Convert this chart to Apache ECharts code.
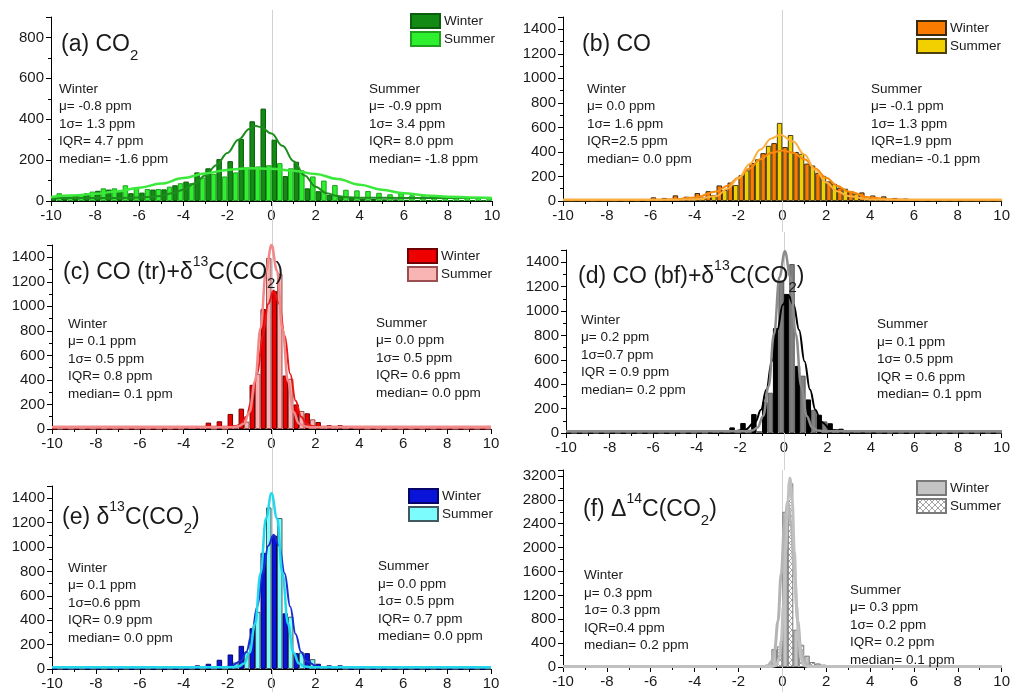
<!DOCTYPE html>
<html>
<head>
<meta charset="utf-8">
<script src="https://cdn.jsdelivr.net/npm/echarts@6/dist/echarts.min.js"></script>
<style>
html,body{margin:0;padding:0;background:#fff;}
#chart{width:1013px;height:692px;}
</style>
</head>
<body>
<div id="chart"></div>
<script>
// ---------- DATA ----------
const binCenters = [-9.75,-9.25,-8.75,-8.25,-7.75,-7.25,-6.75,-6.25,-5.75,-5.25,-4.75,-4.25,-3.75,-3.25,-2.75,-2.25,-1.75,-1.25,-0.75,-0.25,
                    0.25,0.75,1.25,1.75,2.25,2.75,3.25,3.75,4.25,4.75,5.25,5.75,6.25,6.75,7.25,7.75,8.25,8.75,9.25,9.75];
const xTicks = [-10,-8,-6,-4,-2,0,2,4,6,8,10];

// (a) CO2
const aWinter = [18,22,28,38,50,56,48,38,41,56,57,77,95,140,160,205,195,303,390,452,
                 300,122,192,62,48,30,22,15,12,10,8,8,6,5,5,4,3,3,3,2];
const aSummer = [38,30,30,46,62,62,77,67,59,59,70,87,87,115,133,120,140,165,169,175,
                 185,160,150,120,100,78,55,52,49,40,33,38,28,23,20,18,17,15,15,14];
const aFitWinter = [[-10,15],[-7,15],[-6,17],[-5,25],[-4.5,38],[-4,55],[-3.5,85],[-3,125],[-2.5,175],[-2,235],[-1.5,300],[-1,352],[-0.75,368],[-0.5,362],[0,330],[0.5,270],[1,195],[1.5,125],[2,70],[2.5,38],[3,24],[3.5,18],[4,16],[6,15],[10,15]];
const aFitSummer = [[-10,20],[-9,27],[-8,35],[-7,47],[-6,65],[-5,85],[-4,112],[-3,135],[-2,152],[-1,160],[0,158],[1,148],[2,132],[3,108],[4,80],[5,55],[6,38],[7,27],[8,21],[9,17],[10,15]];

// (b) CO
const bWinter = [0,0,0,0,0,3,5,15,30,25,46,35,65,80,127,150,210,310,390,472,
                 440,400,305,230,160,110,80,70,45,38,25,20,15,8,5,3,2,0,0,0];
const bSummer = [0,0,0,0,0,0,2,4,8,10,15,20,30,50,90,130,250,340,450,637,
                 538,385,290,205,140,100,60,35,25,15,10,8,5,3,2,0,0,0,0,0];
const bFitWinter = [[-10,10],[-6,10],[-5,14],[-4,28],[-3,78],[-2.5,125],[-2,190],[-1.5,265],[-1,340],[-0.5,393],[0,412],[0.5,393],[1,340],[1.5,265],[2,190],[2.5,125],[3,78],[4,28],[5,14],[6,10],[10,10]];
const bFitSummer = [[-10,10],[-5,10],[-4,13],[-3,40],[-2.5,100],[-2,185],[-1.5,300],[-1,420],[-0.5,510],[-0.1,540],[0.5,485],[1,380],[1.5,255],[2,150],[2.5,80],[3,40],[4,13],[5,10],[10,10]];

// (c) CO (tr)+d13C(CO2)
const cWinter = [0,0,0,0,0,0,0,0,0,0,0,0,15,15,52,63,123,166,360,978,
                 1125,436,200,128,57,30,30,15,0,0,0,0,0,0,0,0,0,0,0,0];
const cSummer = [0,0,0,0,0,0,0,0,0,0,0,0,10,10,0,0,33,60,450,1395,
                 1265,409,147,79,20,10,5,5,0,0,0,0,0,0,0,0,0,0,0,0];
const cFitWinter = [[-10,18],[-2,18],[-1.6,25],[-1.4,40],[-1.15,100],[-0.9,230],[-0.65,450],[-0.4,760],[-0.15,1020],[0.1,1130],[0.35,1020],[0.6,760],[0.85,450],[1.1,230],[1.35,100],[1.6,40],[1.85,25],[2.2,18],[10,18]];
const cFitSummer = [[-10,15],[-1.75,15],[-1.5,22],[-1.25,45],[-1,140],[-0.75,390],[-0.5,820],[-0.25,1290],[0,1500],[0.25,1290],[0.5,820],[0.75,390],[1,140],[1.25,45],[1.5,22],[1.75,15],[10,15]];

// (d) CO (bf)+d13C(CO2)
const dWinter = [0,0,0,0,0,0,0,0,0,0,0,0,0,19,19,46,82,155,255,860,
                 1140,550,275,150,80,35,20,15,15,0,0,0,0,0,0,0,0,0,0,0];
const dSummer = [0,0,0,0,0,0,0,0,0,0,0,0,0,8,8,5,5,15,330,1250,
                 1385,470,190,95,30,15,10,5,3,0,0,0,0,0,0,0,0,0,0,0];
const dFitWinter = [[-10,15],[-2.3,15],[-1.8,25],[-1.3,93],[-1.05,190],[-0.8,356],[-0.55,588],[-0.3,845],[-0.05,1051],[0.2,1130],[0.45,1051],[0.7,845],[0.95,588],[1.2,356],[1.45,190],[1.7,93],[2.2,25],[2.7,15],[10,15]];
const dFitSummer = [[-10,15],[-1.7,15],[-1.45,21],[-1.2,46],[-0.95,140],[-0.7,382],[-0.45,810],[-0.2,1279],[0.05,1490],[0.3,1279],[0.55,810],[0.8,382],[1.05,140],[1.3,46],[1.55,21],[1.8,15],[10,15]];

// (e) d13C(CO2)
const eWinter = [0,0,0,0,0,0,0,0,0,0,0,0,0,30,43,76,119,190,334,952,
                 1093,456,130,130,43,30,30,0,0,0,0,0,0,0,0,0,0,0,0,0];
const eSummer = [0,0,0,0,0,0,0,0,0,0,0,0,0,0,0,0,54,138,469,1324,
                 1237,429,136,81,20,10,0,0,0,0,0,0,0,0,0,0,0,0,0,0];
const eFitWinter = [[-10,15],[-2.4,15],[-1.9,19],[-1.4,63],[-1.15,139],[-0.9,285],[-0.65,512],[-0.4,782],[-0.15,1010],[0.1,1100],[0.35,1010],[0.6,782],[0.85,512],[1.1,285],[1.35,139],[1.6,63],[2.1,19],[2.6,15],[10,15]];
const eFitSummer = [[-10,15],[-1.75,15],[-1.5,21],[-1.25,45],[-1,136],[-0.75,370],[-0.5,783],[-0.25,1236],[0,1440],[0.25,1236],[0.5,783],[0.75,370],[1,136],[1.25,45],[1.5,21],[1.75,15],[10,15]];

// (f) D14C(CO2)
const fWinter = [0,0,0,0,0,0,0,0,0,0,0,0,0,0,0,0,0,0,20,300,
                 2600,625,190,60,15,0,0,0,0,0,0,0,0,0,0,0,0,0,0,0];
const fSummer = [0,0,0,0,0,0,0,0,0,0,0,0,0,0,0,0,0,0,0,345,
                 3080,373,84,40,5,0,0,0,0,0,0,0,0,0,0,0,0,0,0,0];
const fFitWinter = [[-10,10],[-0.8,10],[-0.65,26],[-0.5,87],[-0.35,288],[-0.2,766],[-0.05,1561],[0.1,2394],[0.25,2760],[0.4,2394],[0.55,1561],[0.7,766],[0.85,288],[1.0,87],[1.15,26],[1.3,10],[10,10]];
const fFitSummer = [[-10,10],[-0.45,10],[-0.35,17],[-0.25,45],[-0.15,148],[-0.05,436],[0.05,1033],[0.15,1922],[0.25,2790],[0.35,3160],[0.45,2790],[0.55,1922],[0.65,1033],[0.75,436],[0.85,148],[0.95,45],[1.05,17],[1.15,10],[10,10]];

// stats texts
const statsWinter = {
  a: ['Winter','μ= -0.8 ppm','1σ= 1.3 ppm','IQR= 4.7 ppm','median= -1.6 ppm'],
  b: ['Winter','μ= 0.0 ppm','1σ= 1.6 ppm','IQR=2.5 ppm','median= 0.0 ppm'],
  c: ['Winter','μ= 0.1 ppm','1σ= 0.5 ppm','IQR= 0.8 ppm','median= 0.1 ppm'],
  d: ['Winter','μ= 0.2 ppm','1σ=0.7 ppm','IQR = 0.9 ppm','median= 0.2 ppm'],
  e: ['Winter','μ= 0.1 ppm','1σ=0.6 ppm','IQR= 0.9 ppm','median= 0.0 ppm'],
  f: ['Winter','μ= 0.3 ppm','1σ= 0.3 ppm','IQR=0.4 ppm','median= 0.2 ppm']
};
const statsSummer = {
  a: ['Summer','μ= -0.9 ppm','1σ= 3.4 ppm','IQR= 8.0 ppm','median= -1.8 ppm'],
  b: ['Summer','μ= -0.1 ppm','1σ= 1.3 ppm','IQR=1.9 ppm','median= -0.1 ppm'],
  c: ['Summer','μ= 0.0 ppm','1σ= 0.5 ppm','IQR= 0.6 ppm','median= 0.0 ppm'],
  d: ['Summer','μ= 0.1 ppm','1σ= 0.5 ppm','IQR = 0.6 ppm','median= 0.1 ppm'],
  e: ['Summer','μ= 0.0 ppm','1σ= 0.5 ppm','IQR= 0.7 ppm','median= 0.0 ppm'],
  f: ['Summer','μ= 0.3 ppm','1σ= 0.2 ppm','IQR= 0.2 ppm','median= 0.1 ppm']
};
const panelTitles = {
  a: '{m|(a) CO}{sub|2}',
  b: '{m|(b) CO}',
  c: '{m|(c) CO (tr)+δ}{sup|13}{m|C(CO}{sub|2}{m|)}',
  d: '{m|(d) CO (bf)+δ}{sup|13}{m|C(CO}{sub|2}{m|)}',
  e: '{m|(e) δ}{sup|13}{m|C(CO}{sub|2}{m|)}',
  f: '{m|(f) Δ}{sup|14}{m|C(CO}{sub|2}{m|)}'
};

// ---------- STYLE / LAYOUT ----------
const FONT = "'Liberation Sans', Arial, sans-serif";
const TXT = '#1a1a1a';

function hatchPattern(){
  const c = document.createElement('canvas');
  c.width = 6; c.height = 6;
  const g = c.getContext('2d');
  g.fillStyle = '#ffffff'; g.fillRect(0,0,6,6);
  g.strokeStyle = '#8a8a8a'; g.lineWidth = 0.8;
  g.beginPath();
  g.moveTo(0,0); g.lineTo(6,6);
  g.moveTo(6,0); g.lineTo(0,6);
  g.stroke();
  return c;
}

const panels = [
  {id:'a', grid:{left:51, top:17, width:441, height:184}, yMax:900, yInt:200,
   w:aWinter, s:aSummer, fw:aFitWinter, fs:aFitSummer,
   wCol:'#138a13', wBorder:'#0b5e0b', sCol:'#2ef02e', sBorder:'#1fa01f',
   fwCol:'#1d8e1d', fsCol:'#3ce83c', fwW:2, fsW:2.5,
   legend:{left:410, top:13}, title:{left:61, top:27},
   sw:{left:59, top:80.5}, ss:{left:369, top:80.5}},
  {id:'b', grid:{left:563, top:17, width:439, height:184}, yMax:1500, yInt:200,
   w:bWinter, s:bSummer, fw:bFitWinter, fs:bFitSummer,
   wCol:'#f97b00', wBorder:'#3a2a10', sCol:'#f2d000', sBorder:'#4a4010',
   fwCol:'#f88a10', fsCol:'#fbb040', fwW:2, fsW:2,
   legend:{left:916, top:20}, title:{left:582, top:27},
   sw:{left:587, top:80.5}, ss:{left:871, top:80.5}},
  {id:'c', grid:{left:52, top:245, width:439, height:184}, yMax:1500, yInt:200,
   w:cWinter, s:cSummer, fw:cFitWinter, fs:cFitSummer,
   wCol:'#ee0000', wBorder:'#700000', sCol:'#f9b4b4', sBorder:'#9a5050',
   fwCol:'#e81818', fsCol:'#f28888', fwW:2, fsW:2.5,
   legend:{left:407, top:248}, title:{left:63, top:255},
   sw:{left:68, top:315.5}, ss:{left:376, top:314.5}},
  {id:'d', grid:{left:566, top:250, width:437, height:183}, yMax:1500, yInt:200,
   w:dWinter, s:dSummer, fw:dFitWinter, fs:dFitSummer,
   wCol:'#000000', wBorder:'#000000', sCol:'#808080', sBorder:'#5a5a5a',
   fwCol:'#000000', fsCol:'#8c8c8c', fwW:2, fsW:2.5,
   legend:null, title:{left:578, top:259},
   sw:{left:581, top:311.5}, ss:{left:877, top:316}},
  {id:'e', grid:{left:52, top:486, width:439, height:183}, yMax:1500, yInt:200,
   w:eWinter, s:eSummer, fw:eFitWinter, fs:eFitSummer,
   wCol:'#0a14d8', wBorder:'#06066a', sCol:'#7cfcfc', sBorder:'#405a60',
   fwCol:'#1a2ed0', fsCol:'#22d8ea', fwW:2, fsW:2.5,
   legend:{left:408, top:488}, title:{left:62, top:500},
   sw:{left:68, top:559.5}, ss:{left:378, top:558}},
  {id:'f', grid:{left:563, top:470, width:439, height:197}, yMax:3300, yInt:400,
   w:fWinter, s:fSummer, fw:fFitWinter, fs:fFitSummer,
   wCol:'#c4c4c4', wBorder:'#7a7a7a', sCol:{image:hatchPattern(), repeat:'repeat'}, sBorder:'#7a7a7a',
   fwCol:'#b4b4b4', fsCol:'#c0c0c0', fwW:3, fsW:3,
   legend:{left:916, top:480}, title:{left:583, top:492},
   sw:{left:584, top:567}, ss:{left:850, top:581.5}}
];

const grids = [], xAxes = [], yAxes = [], series = [], legends = [], titles = [];

panels.forEach((p, i) => {
  grids.push(Object.assign({containLabel:false}, p.grid));
  xAxes.push({
    type:'value', gridIndex:i, min:xTicks[0], max:xTicks[xTicks.length-1], interval:2,
    axisLine:{show:true, onZero:false, lineStyle:{color:'#000', width:1}},
    axisTick:{show:true, length:5, lineStyle:{color:'#000'}},
    minorTick:{show:true, splitNumber:2, length:3, lineStyle:{color:'#000'}},
    splitLine:{show:false},
    axisLabel:{color:TXT, fontSize:15, fontFamily:FONT, margin:7, formatter: v => String(v)}
  });
  yAxes.push({
    type:'value', gridIndex:i, min:0, max:p.yMax, interval:p.yInt, position:'left',
    axisLine:{show:true, onZero:false, lineStyle:{color:'#000', width:1}},
    axisTick:{show:true, length:5, lineStyle:{color:'#000'}},
    minorTick:{show:true, splitNumber:2, length:3, lineStyle:{color:'#000'}},
    splitLine:{show:false},
    axisLabel:{color:TXT, fontSize:15, fontFamily:FONT, margin:7, showMaxLabel:false, formatter: v => String(v)}
  });
  const halfBin = p.grid.width / 80;   // each season takes half of a 0.5-wide bin
  const wName = p.id + '|Winter', sName = p.id + '|Summer';
  series.push({
    type:'bar', name:wName, xAxisIndex:i, yAxisIndex:i,
    data: binCenters.map((x,k) => [x, p.w[k]]),
    barWidth: halfBin, barGap:'0%', z:2,
    itemStyle:{color:p.wCol, borderColor:p.wBorder, borderWidth:1}
  });
  series.push({
    type:'bar', name:sName, xAxisIndex:i, yAxisIndex:i,
    data: binCenters.map((x,k) => [x, p.s[k]]),
    barWidth: halfBin, barGap:'0%', z:2,
    itemStyle:{color:p.sCol, borderColor:p.sBorder, borderWidth:1}
  });
  series.push({
    type:'line', name:p.id+'|fitW', xAxisIndex:i, yAxisIndex:i, data:p.fw,
    showSymbol:false, smooth:0.4, smoothMonotone:'x', z:4,
    lineStyle:{color:p.fwCol, width:p.fwW}
  });
  series.push({
    type:'line', name:p.id+'|fitS', xAxisIndex:i, yAxisIndex:i, data:p.fs,
    showSymbol:false, smooth:0.4, smoothMonotone:'x', z:4,
    lineStyle:{color:p.fsCol, width:p.fsW}
  });
  if (p.legend) {
    legends.push({
      data:[wName, sName], orient:'vertical', left:p.legend.left, top:p.legend.top,
      itemWidth:29, itemHeight:14, itemGap:2, padding:0, icon:'rect', selectedMode:false,
      formatter: n => n.split('|')[1],
      textStyle:{color:TXT, fontSize:13.5, fontFamily:FONT, padding:[0,0,0,-1]}
    });
  }
  titles.push({
    text: panelTitles[p.id], left:p.title.left, top:p.title.top, padding:0,
    textStyle:{
      fontWeight:'normal', fontFamily:FONT, color:TXT, fontSize:23,
      rich:{
        m:{fontSize:23, lineHeight:26, padding:[6,0,0,0], verticalAlign:'top', fontFamily:FONT, color:TXT},
        sub:{fontSize:15, lineHeight:16, padding:[21,0,0,0], verticalAlign:'top', fontFamily:FONT, color:TXT},
        sup:{fontSize:14, lineHeight:16, padding:[0,0,0,0], verticalAlign:'top', fontFamily:FONT, color:TXT}
      }
    }
  });
  [[statsWinter[p.id], p.sw], [statsSummer[p.id], p.ss]].forEach(([lines, pos]) => {
    titles.push({
      text: lines.join('\n'), left:pos.left, top:pos.top, padding:0,
      textStyle:{fontWeight:'normal', fontFamily:FONT, color:TXT, fontSize:13.5, lineHeight:17.5}
    });
  });
});

const chart = echarts.init(document.getElementById('chart'), null, {renderer:'canvas'});
chart.setOption({
  animation:false,
  backgroundColor:'#ffffff',
  title: titles,
  grid: grids,
  xAxis: xAxes,
  yAxis: yAxes,
  legend: legends,
  series: series
});

// vertical zero reference lines, positioned through each panel's own x scale
const spans = [[10,232],[10,232],[232,470],[232,470],[470,692],[470,692]];
const graphics = panels.map((p, i) => {
  const x = Math.round(chart.convertToPixel({xAxisIndex:i}, 0)) + 0.5;
  return {type:'line', z:1, silent:true,
          shape:{x1:x, y1:spans[i][0], x2:x, y2:spans[i][1]},
          style:{stroke:'#d2d2d2', lineWidth:1}};
});
chart.setOption({graphic: graphics});
</script>
</body>
</html>
